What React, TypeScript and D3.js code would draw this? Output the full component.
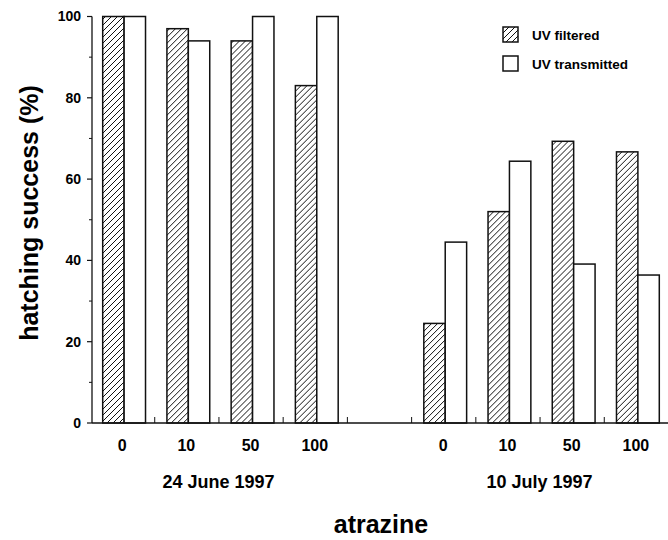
import React, { useEffect, useRef } from 'react';
import * as d3 from 'd3';

// atrazine concentrations (tick labels)
const concentrations = ['0', '10', '50', '100'];
const dates = ['24 June 1997', '10 July 1997'];
const seriesNames = ['UV filtered', 'UV transmitted'];

// hatching success (%)
const uvFilteredJune = [100, 97, 94, 83];
const uvTransmittedJune = [100, 94, 100, 100];
const uvFilteredJuly = [24.5, 52, 69.3, 66.7];
const uvTransmittedJuly = [44.5, 64.4, 39.1, 36.4];

const yTicks = [0, 20, 40, 60, 80, 100];

const App = () => {
  const chartRef = useRef<SVGSVGElement | null>(null);

  useEffect(() => {
    const width = 668;
    const font = '"Liberation Sans", Arial, Helvetica, sans-serif';

    const svg = d3.select(chartRef.current);
    svg.selectAll('*').remove();
    svg.style('font-family', font);

    // table built from the arrays: one slot per concentration, gap between dates
    const slots = [
      ...concentrations.map((c, i) => ({ key: 'jun-' + c, label: c, date: 0, vals: [uvFilteredJune[i], uvTransmittedJune[i]] })),
      { key: 'gap', label: '', date: -1, vals: [] as number[] },
      ...concentrations.map((c, i) => ({ key: 'jul-' + c, label: c, date: 1, vals: [uvFilteredJuly[i], uvTransmittedJuly[i]] })),
    ];

    const x = d3
      .scaleBand()
      .domain(slots.map(d => d.key))
      .range([92, 670])
      .paddingInner(0);

    const xSub = d3
      .scaleBand()
      .domain(seriesNames)
      .range([0, x.bandwidth()])
      .paddingInner(0)
      .paddingOuter(0.5);

    const y = d3.scaleLinear().domain([0, 100]).range([423, 16.5]);

    // hatch pattern
    const defs = svg.append('defs');
    const pat = defs
      .append('pattern')
      .attr('id', 'hatch')
      .attr('patternUnits', 'userSpaceOnUse')
      .attr('width', 6)
      .attr('height', 6);
    pat.append('rect').attr('width', 6).attr('height', 6).attr('fill', 'white');
    pat
      .append('path')
      .attr('d', 'M-1,1 L1,-1 M0,6 L6,0 M5,7 L7,5')
      .attr('stroke', '#111')
      .attr('stroke-width', 1);

    // bars
    const groups = svg
      .append('g')
      .selectAll('g')
      .data(slots.filter(d => d.date >= 0))
      .enter()
      .append('g')
      .attr('transform', d => `translate(${x(d.key)},0)`);

    groups
      .selectAll('rect')
      .data(d => d.vals.map((v, i) => ({ name: seriesNames[i], v })))
      .enter()
      .append('rect')
      .attr('x', d => xSub(d.name) as number)
      .attr('y', d => y(d.v))
      .attr('width', xSub.bandwidth())
      .attr('height', d => y(0) - y(d.v))
      .attr('fill', d => (d.name === seriesNames[0] ? 'url(#hatch)' : 'white'))
      .attr('stroke', '#111')
      .attr('stroke-width', 1.5);

    // y axis
    const yAxis = svg.append('g');
    yAxis
      .append('line')
      .attr('x1', 92)
      .attr('x2', 92)
      .attr('y1', y(100))
      .attr('y2', y(0))
      .attr('stroke', '#111')
      .attr('stroke-width', 1.3);
    yAxis
      .selectAll('.major')
      .data(yTicks)
      .enter()
      .append('line')
      .attr('x1', 87)
      .attr('x2', 92)
      .attr('y1', d => y(d))
      .attr('y2', d => y(d))
      .attr('stroke', '#111')
      .attr('stroke-width', 1.2);
    yAxis
      .selectAll('.minor')
      .data(d3.range(10, 100, 20))
      .enter()
      .append('line')
      .attr('x1', 89)
      .attr('x2', 92)
      .attr('y1', d => y(d))
      .attr('y2', d => y(d))
      .attr('stroke', '#111')
      .attr('stroke-width', 1);
    yAxis
      .selectAll('text')
      .data(yTicks)
      .enter()
      .append('text')
      .attr('x', 81)
      .attr('y', d => y(d))
      .attr('dy', '0.35em')
      .attr('text-anchor', 'end')
      .style('font-size', '14px')
      .style('font-weight', 'bold')
      .text(d => d);

    // x axis baseline and slot ticks
    const xAxis = svg.append('g');
    xAxis
      .append('line')
      .attr('x1', 92)
      .attr('x2', width)
      .attr('y1', y(0))
      .attr('y2', y(0))
      .attr('stroke', '#111')
      .attr('stroke-width', 1.3);
    xAxis
      .selectAll('.xtick')
      .data(slots.slice(1))
      .enter()
      .append('line')
      .attr('x1', d => (x(d.key) as number) - 1.5)
      .attr('x2', d => (x(d.key) as number) - 1.5)
      .attr('y1', y(0))
      .attr('y2', y(0) - 6)
      .attr('stroke', '#111')
      .attr('stroke-width', 1);
    xAxis
      .selectAll('text')
      .data(slots.filter(d => d.date >= 0))
      .enter()
      .append('text')
      .attr('x', d => (x(d.key) as number) + x.bandwidth() / 2 - 2)
      .attr('y', 445)
      .attr('dy', '0.35em')
      .attr('text-anchor', 'middle')
      .style('font-size', '16px')
      .style('font-weight', 'bold')
      .text(d => d.label);

    // date labels
    svg
      .selectAll('.date')
      .data(dates)
      .enter()
      .append('text')
      .attr('x', (d, i) => {
        const s = slots.filter(o => o.date === i);
        const a = x(s[0].key) as number;
        const b = (x(s[s.length - 1].key) as number) + x.bandwidth();
        return (a + b) / 2 - 2;
      })
      .attr('y', 482)
      .attr('dy', '0.35em')
      .attr('text-anchor', 'middle')
      .style('font-size', '18px')
      .style('font-weight', 'bold')
      .text(d => d);

    // axis titles
    svg
      .append('text')
      .attr('x', 381)
      .attr('y', 533)
      .attr('text-anchor', 'middle')
      .style('font-size', '25px')
      .style('font-weight', 'bold')
      .text('atrazine');

    svg
      .append('text')
      .attr('transform', 'translate(29,213) rotate(-90)')
      .attr('dy', '0.35em')
      .attr('text-anchor', 'middle')
      .style('font-size', '25px')
      .style('font-weight', 'bold')
      .text('hatching success (%)');

    // legend
    const legend = svg
      .append('g')
      .selectAll('g')
      .data(seriesNames)
      .enter()
      .append('g')
      .attr('transform', (d, i) => `translate(503,${27 + i * 29})`);
    legend
      .append('rect')
      .attr('width', 15)
      .attr('height', 15)
      .attr('fill', (d, i) => (i === 0 ? 'url(#hatch)' : 'white'))
      .attr('stroke', '#111')
      .attr('stroke-width', 1.5);
    legend
      .append('text')
      .attr('x', 29)
      .attr('y', 8)
      .attr('dy', '0.35em')
      .style('font-size', '13.5px')
      .style('font-weight', 'bold')
      .text(d => d);
  }, []);

  return (
    <svg
      ref={chartRef}
      width={668}
      height={540}
      style={{ position: 'absolute', left: 0, top: 0, background: 'white', display: 'block' }}
    />
  );
};

export default App;
